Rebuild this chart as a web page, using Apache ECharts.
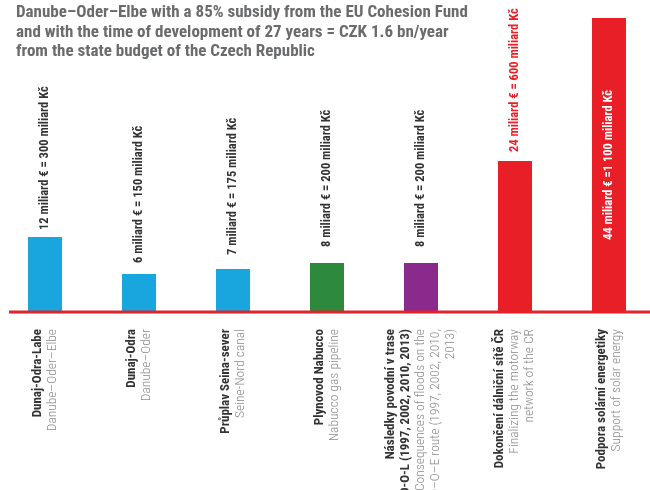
<!DOCTYPE html>
<html>
<head>
<meta charset="utf-8">
<script src="https://cdn.jsdelivr.net/npm/echarts@6/dist/echarts.min.js"></script>
<style>
    html, body {margin: 0; padding: 0; background: #fff;}
    #chart {width: 650px; height: 490px;}
</style>
</head>
<body>
<div id="chart"></div>
<script>
var namesCz = ['Dunaj-Odra-Labe', 'Dunaj-Odra', 'Průplav Seina-sever', 'Plynovod Nabucco',
    'Následky povodní v trase\nD-O-L (1997, 2002, 2010, 2013)', 'Dokončení dálniční sítě ČR', 'Podpora solární energetiky'];
var namesEn = ['Danube–Oder–Elbe', 'Danube–Oder', 'Seine-Nord canal', 'Nabucco gas pipeline',
    'Consequences of floods on the\nD–O–E route (1997, 2002, 2010,\n2013)', 'Finalizing the motorway\nnetwork of the CR', 'Support of solar energy'];
// bar heights (bn CZK scale)
var values = [300, 152, 172, 196, 196, 604, 1176];
var valueLabels = ['12 miliard € = 300 miliard Kč', '6 miliard € = 150 miliard Kč', '7 miliard € = 175 miliard Kč',
    '8 miliard € = 200 miliard Kč', '8 miliard € = 200 miliard Kč', '24 miliard € = 600 miliard Kč', '44 miliard € =1 100 miliard Kč'];

var colors = ['#19a6df', '#19a6df', '#19a6df', '#2d8a3c', '#8a2a8c', '#e81f27', '#e81f27'];
var labelGap = [7, 11, 14, 16, 16, 9, 0];
var FONT = '"Roboto Condensed", "DejaVu Sans Condensed", sans-serif';

var chart = echarts.init(document.getElementById('chart'));

var barData = values.map(function (v, i) {
    var lbl;
    if (i === values.length - 1) {
        lbl = {position: 'inside', rotate: 90, color: '#fff', align: 'center', verticalAlign: 'middle'};
    } else {
        lbl = {position: 'top', rotate: 90, distance: labelGap[i], align: 'left', verticalAlign: 'middle',
            color: i === 5 ? '#e81f27' : '#333333'};
    }
    return {value: v, itemStyle: {color: colors[i]}, label: lbl};
});

var option = {
    animation: false,
    title: {
        text: 'Danube–Oder–Elbe with a 85% subsidy from the EU Cohesion Fund\nand with the time of development of 27 years = CZK 1.6 bn/year\nfrom the state budget of the Czech Republic',
        left: 16,
        top: 3,
        padding: 0,
        textStyle: {fontFamily: FONT, fontSize: 17, fontWeight: 'bold', color: '#6a6b6d', lineHeight: 19.5}
    },
    grid: {left: -2, right: -6, top: 12, bottom: 178, containLabel: false, outerBoundsMode: 'none'},
    xAxis: {
        type: 'category',
        data: namesCz,
        axisLine: {show: false},
        axisTick: {show: false},
        axisLabel: {
            interval: 0,
            rotate: 90,
            margin: 17,
            formatter: function (v, i) {
                return '{b|' + v + '}\n{g|' + namesEn[i] + '}';
            },
            rich: {
                b: {fontFamily: FONT, fontSize: 13, fontWeight: 'bold', color: '#333333', lineHeight: 15, align: 'right'},
                g: {fontFamily: FONT, fontSize: 13.5, fontWeight: 300, color: '#8a8a8a', lineHeight: 15, align: 'right'}
            }
        }
    },
    yAxis: {type: 'value', min: 0, max: 1200, show: false},
    graphic: [{
        type: 'line',
        shape: {x1: 9, y1: 312, x2: 650, y2: 312},
        style: {stroke: '#e2232a', lineWidth: 3},
        z: 100
    }],
    series: [{
        type: 'bar',
        barWidth: 34,
        data: barData,
        label: {
            show: true,
            fontFamily: FONT,
            fontSize: 12.5,
            fontWeight: 'bold',
            formatter: function (p) {
                return valueLabels[p.dataIndex];
            }
        }
    }]
};

chart.setOption(option);
</script>
</body>
</html>
